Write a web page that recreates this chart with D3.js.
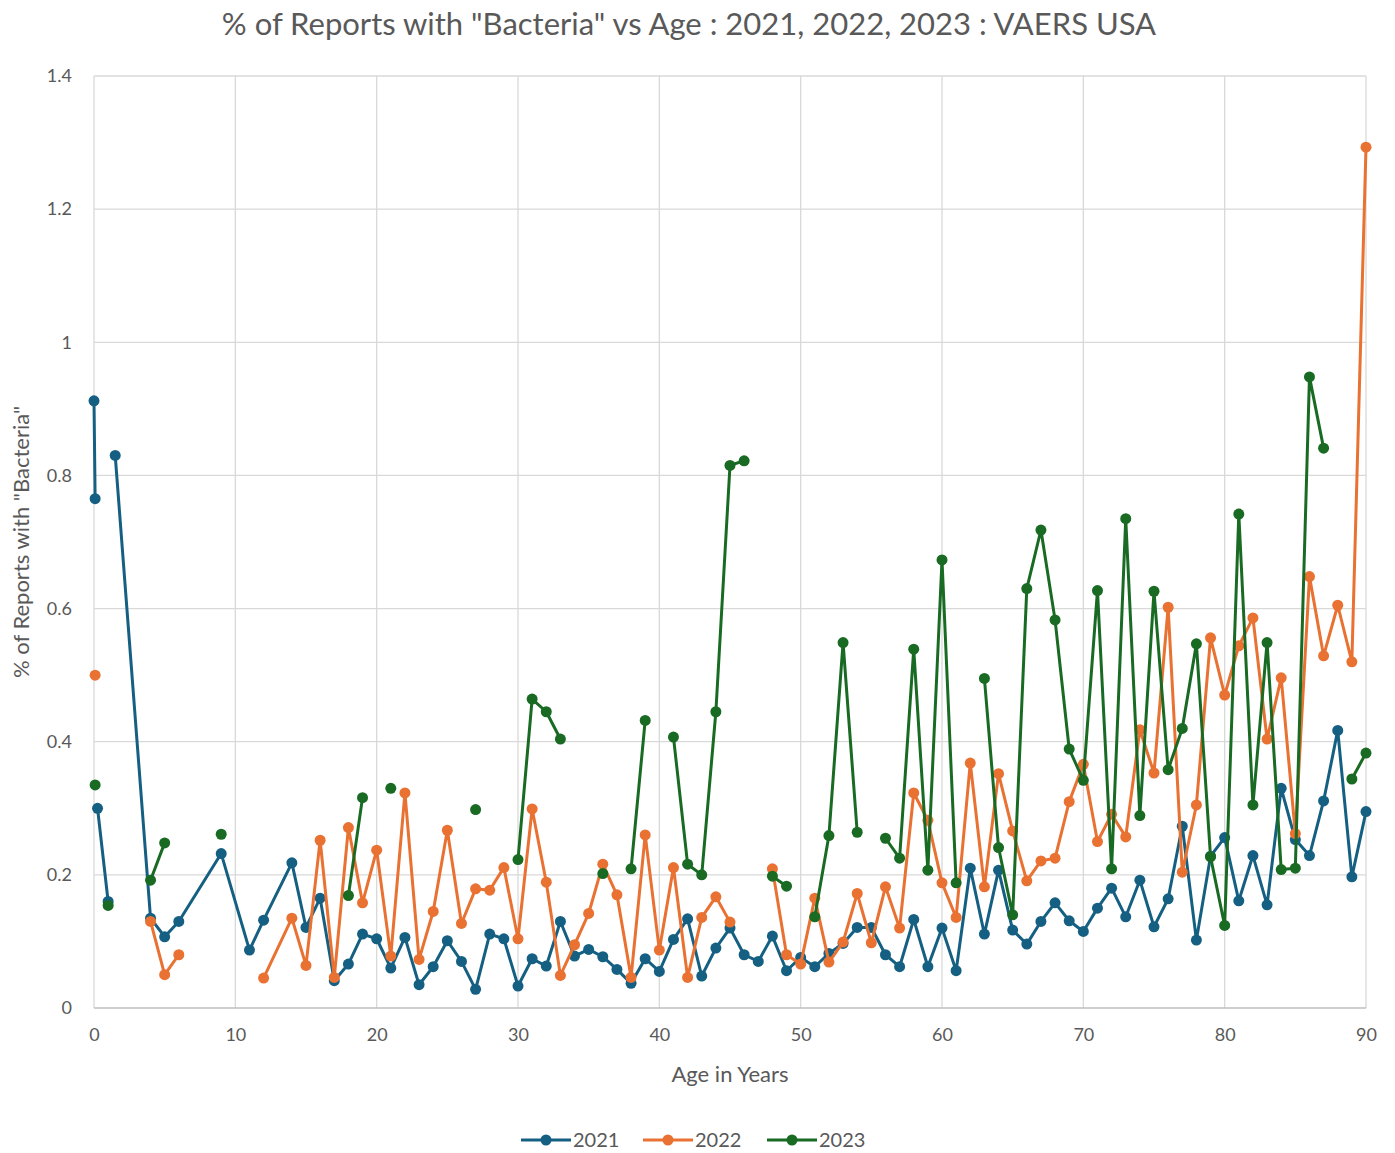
<!DOCTYPE html>
<html>
<head>
<meta charset="utf-8">
<script src="https://cdn.jsdelivr.net/npm/d3@7"></script>
<style>
  body { margin: 0; background: #fff; }
  svg text { font-family: Lato, "Open Sans", sans-serif; fill: #595959; }
</style>
</head>
<body>
<div id="chart"></div>
<script>
// ages on the x axis (a few fractional ones for infants)
const ages = [0, 0.08, 0.17, 0.25, 1, 1.25, 1.5, 4, 5, 6,
  9, 11, 12, 14, 15, 16, 17, 18, 19, 20,
  21, 22, 23, 24, 25, 26, 27, 28, 29, 30,
  31, 32, 33, 34, 35, 36, 37, 38, 39, 40,
  41, 42, 43, 44, 45, 46, 47, 48, 49, 50,
  51, 52, 53, 54, 55, 56, 57, 58, 59, 60,
  61, 62, 63, 64, 65, 66, 67, 68, 69, 70,
  71, 72, 73, 74, 75, 76, 77, 78, 79, 80,
  81, 82, 83, 84, 85, 86, 87, 88, 89, 90];

// % of reports per year, null = no value (gap in the line)
const v2021 = [0.912, 0.765, null, 0.30, 0.16, null, 0.83, 0.135, 0.107, 0.13,
  0.232, 0.087, 0.132, 0.218, 0.121, 0.165, 0.041, 0.066, 0.111, 0.104,
  0.06, 0.106, 0.035, 0.062, 0.101, 0.07, 0.028, 0.111, 0.104, 0.033,
  0.074, 0.063, 0.13, 0.078, 0.088, 0.077, 0.058, 0.037, 0.074, 0.055,
  0.103, 0.134, 0.048, 0.09, 0.12, 0.08, 0.07, 0.108, 0.056, 0.076,
  0.062, 0.082, 0.097, 0.121, 0.121, 0.08, 0.062, 0.133, 0.062, 0.12,
  0.056, 0.21, 0.111, 0.207, 0.117, 0.096, 0.13, 0.158, 0.131, 0.115,
  0.15, 0.18, 0.137, 0.192, 0.122, 0.164, 0.273, 0.102, 0.228, 0.256,
  0.161, 0.229, 0.155, 0.33, 0.253, 0.229, 0.311, 0.417, 0.197, 0.295];

const v2022 = [null, 0.50, null, null, null, null, null, 0.13, 0.05, 0.08,
  null, null, 0.045, 0.135, 0.064, 0.252, 0.046, 0.271, 0.158, 0.237,
  0.078, 0.323, 0.073, 0.145, 0.267, 0.127, 0.179, 0.177, 0.211, 0.104,
  0.299, 0.189, 0.049, 0.095, 0.142, 0.216, 0.17, 0.046, 0.26, 0.087,
  0.211, 0.046, 0.136, 0.167, 0.129, null, null, 0.209, 0.08, 0.066,
  0.165, 0.069, 0.099, 0.172, 0.098, 0.182, 0.12, 0.323, 0.282, 0.188,
  0.136, 0.368, 0.182, 0.352, 0.266, 0.191, 0.221, 0.225, 0.31, 0.366,
  0.25, 0.291, 0.257, 0.418, 0.353, 0.602, 0.204, 0.305, 0.556, 0.47,
  0.544, 0.586, 0.404, 0.496, 0.262, 0.648, 0.529, 0.605, 0.52, 1.293];

const v2023 = [null, 0.335, null, null, 0.154, null, null, 0.192, 0.248, null,
  0.261, null, null, null, null, null, null, 0.169, 0.316, null,
  0.33, null, null, null, null, null, 0.298, null, null, 0.223,
  0.464, 0.445, 0.404, null, null, 0.202, null, 0.209, 0.432, null,
  0.407, 0.216, 0.2, 0.445, 0.815, 0.822, null, 0.198, 0.183, null,
  0.137, 0.259, 0.549, 0.264, null, 0.255, 0.225, 0.539, 0.207, 0.673,
  0.188, null, 0.495, 0.241, 0.14, 0.63, 0.718, 0.583, 0.389, 0.342,
  0.627, 0.209, 0.735, 0.289, 0.626, 0.358, 0.42, 0.547, 0.227, 0.124,
  0.742, 0.305, 0.549, 0.208, 0.21, 0.948, 0.841, null, 0.344, 0.383];

const seriesNames = ['2021', '2022', '2023'];
const xTicks = [0, 10, 20, 30, 40, 50, 60, 70, 80, 90];
const yTicks = [0, 0.2, 0.4, 0.6, 0.8, 1, 1.2, 1.4];

const series = [
  { name: seriesNames[0], values: v2021, color: '#156082' },
  { name: seriesNames[1], values: v2022, color: '#E97132' },
  { name: seriesNames[2], values: v2023, color: '#196B24' }
];

const width = 1395;
const height = 1153;
const margin = { left: 94, right: 29, top: 76, bottom: 145 };

const svg = d3.select('#chart')
  .append('svg')
  .attr('width', width)
  .attr('height', height);

const x = d3.scaleLinear().domain([0, 90]).range([margin.left, width - margin.right]);
const y = d3.scaleLinear().domain([0, 1.4]).range([height - margin.bottom, margin.top]);

// title
svg.append('text')
  .attr('x', 689)
  .attr('y', 35)
  .attr('text-anchor', 'middle')
  .style('font-size', '31px')
  .text('% of Reports with "Bacteria" vs Age : 2021, 2022, 2023 : VAERS USA');

// gridlines
svg.append('g')
  .selectAll('line')
  .data(yTicks.slice(1))
  .enter()
  .append('line')
  .attr('x1', x(0)).attr('x2', x(90))
  .attr('y1', d => y(d)).attr('y2', d => y(d))
  .attr('stroke', '#d9d9d9').attr('stroke-width', 1.3);

svg.append('g')
  .selectAll('line')
  .data(xTicks)
  .enter()
  .append('line')
  .attr('x1', d => x(d)).attr('x2', d => x(d))
  .attr('y1', y(0)).attr('y2', y(1.4))
  .attr('stroke', '#d9d9d9').attr('stroke-width', 1.3);

// bottom axis line
svg.append('line')
  .attr('x1', x(0)).attr('x2', x(90))
  .attr('y1', y(0)).attr('y2', y(0))
  .attr('stroke', '#bfbfbf').attr('stroke-width', 1.3);

// axes (labels only, lines drawn above)
const xAxis = svg.append('g')
  .attr('transform', 'translate(0,' + y(0) + ')')
  .call(d3.axisBottom(x).tickValues(xTicks).tickSize(0).tickPadding(20));
xAxis.select('.domain').remove();
xAxis.selectAll('text').style('font-size', '18px');

const yAxis = svg.append('g')
  .attr('transform', 'translate(' + (x(0) - 10) + ',0)')
  .call(d3.axisLeft(y).tickValues(yTicks).tickSize(0).tickPadding(12).tickFormat(d3.format('~g')));
yAxis.select('.domain').remove();
yAxis.selectAll('text').style('font-size', '18px');

// axis titles
svg.append('text')
  .attr('x', (x(0) + x(90)) / 2)
  .attr('y', 1082)
  .attr('text-anchor', 'middle')
  .style('font-size', '22px')
  .text('Age in Years');

svg.append('text')
  .attr('transform', 'translate(29,' + (y(0) + y(1.4)) / 2 + ') rotate(-90)')
  .attr('text-anchor', 'middle')
  .style('font-size', '22px')
  .text('% of Reports with "Bacteria"');

// lines + markers
const line = d3.line()
  .defined(d => d.v !== null)
  .x(d => x(d.age))
  .y(d => y(d.v));

series.forEach(s => {
  const pts = ages.map((a, i) => ({ age: a, v: s.values[i] }));
  svg.append('path')
    .datum(pts)
    .attr('d', line)
    .attr('fill', 'none')
    .attr('stroke', s.color)
    .attr('stroke-width', 3)
    .attr('stroke-linejoin', 'round');
  svg.append('g')
    .selectAll('circle')
    .data(pts.filter(d => d.v !== null))
    .enter()
    .append('circle')
    .attr('cx', d => x(d.age))
    .attr('cy', d => y(d.v))
    .attr('r', 5.5)
    .attr('fill', s.color);
});

// legend
const legendX = [521, 643, 767];
const legend = svg.append('g');
series.forEach((s, i) => {
  const g = legend.append('g').attr('transform', 'translate(' + legendX[i] + ',1140)');
  g.append('line').attr('x1', 0).attr('x2', 50).attr('y1', 0).attr('y2', 0)
    .attr('stroke', s.color).attr('stroke-width', 3);
  g.append('circle').attr('cx', 25).attr('cy', 0).attr('r', 5.5).attr('fill', s.color);
  g.append('text').attr('x', 52).attr('y', 7).style('font-size', '20px').text(s.name);
});
</script>
</body>
</html>
